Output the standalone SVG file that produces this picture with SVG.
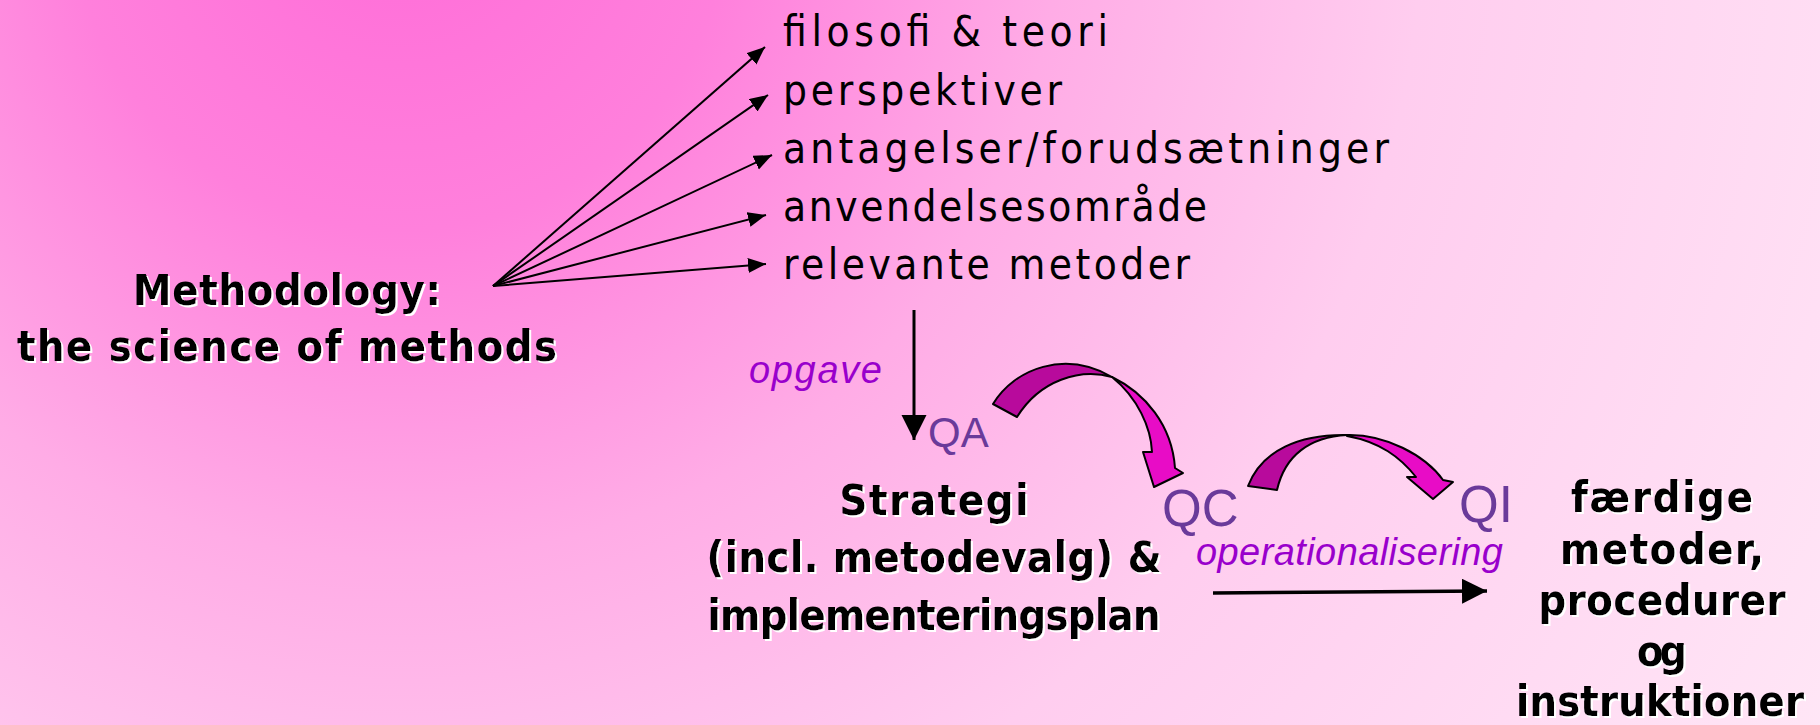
<svg xmlns="http://www.w3.org/2000/svg" width="1820" height="725" viewBox="0 0 1820 725">
<style>
.lst{font-family:"Liberation Sans Narrow","DejaVu Sans Condensed","Liberation Sans",sans-serif;font-size:42px;fill:#000}
.bld{font-family:"Liberation Sans Narrow","DejaVu Sans Condensed","Liberation Sans",sans-serif;font-size:43px;font-weight:bold;fill:#000;text-anchor:middle;filter:url(#wsh)}
.q{font-family:"Liberation Sans",Arial,sans-serif;fill:#6a3a9a}
.lbl{font-family:"Liberation Sans",Arial,sans-serif;font-style:italic;font-size:38px;fill:#9900cc}
.ln{stroke:#000;fill:none}
.dark{fill:#b80a9c;stroke:#000;stroke-width:2;stroke-linejoin:round}
.bright{fill:#e80cc6;stroke:#000;stroke-width:2;stroke-linejoin:round}
</style>
<defs>
<radialGradient id="bg" gradientUnits="userSpaceOnUse" cx="400" cy="-100" r="1650">
<stop offset="0" stop-color="#ff6cd8"/>
<stop offset="0.2" stop-color="#ff80dc"/>
<stop offset="0.4" stop-color="#fface6"/>
<stop offset="0.62" stop-color="#ffcdef"/>
<stop offset="1" stop-color="#ffe6f6"/>
</radialGradient>
<filter id="wsh" x="-5%" y="-20%" width="110%" height="140%">
<feFlood flood-color="#ffffff" result="w"/>
<feComposite in="w" in2="SourceAlpha" operator="in" result="ws"/>
<feOffset in="ws" dx="2" dy="2" result="off"/>
<feMerge><feMergeNode in="off"/><feMergeNode in="SourceGraphic"/></feMerge>
</filter>
<marker id="ah" markerUnits="userSpaceOnUse" markerWidth="20" markerHeight="16" refX="18" refY="7.5" orient="auto">
<path d="M0,0 L18,7.5 L0,15 Z" fill="#000"/>
</marker>
<marker id="ahb" markerUnits="userSpaceOnUse" markerWidth="26" markerHeight="26" refX="25" refY="12.5" orient="auto">
<path d="M0,0 L25,12.5 L0,25 Z" fill="#000"/>
</marker>
</defs>
<rect x="0" y="0" width="1820" height="725" fill="url(#bg)"/>

<g id="connectors">
<line class="ln" stroke-width="2" x1="493" y1="286" x2="765" y2="47" marker-end="url(#ah)"/>
<line class="ln" stroke-width="2" x1="493" y1="286" x2="768" y2="95" marker-end="url(#ah)"/>
<line class="ln" stroke-width="2" x1="493" y1="286" x2="772" y2="155" marker-end="url(#ah)"/>
<line class="ln" stroke-width="2" x1="493" y1="286" x2="766" y2="215" marker-end="url(#ah)"/>
<line class="ln" stroke-width="2" x1="493" y1="286" x2="766" y2="264" marker-end="url(#ah)"/>
<line class="ln" stroke-width="3" x1="914" y1="310" x2="914" y2="440" marker-end="url(#ahb)"/>
<line class="ln" stroke-width="3.5" x1="1213" y1="593" x2="1487" y2="591" marker-end="url(#ahb)"/>
<g id="curve-qa-qc">
<path class="dark" d="M993,404 C1015,368 1065,350 1112,377 C1080,368 1040,380 1017,417 Z"/>
<path class="bright" d="M1112,377 C1145,393 1172,425 1175,468 L1183,473 L1154,487 L1143,452 L1152,452 C1151,428 1138,398 1112,377 Z"/>
</g>
<g id="curve-qc-qi">
<path class="dark" d="M1248,486 C1262,450 1300,434 1347,435 C1310,437 1285,455 1277,490 Z"/>
<path class="bright" d="M1347,435 C1385,434 1425,455 1443,480 L1453,482 L1433,499 L1407,477 L1416,477 C1400,457 1380,442 1347,436 Z"/>
</g>
</g>

<g id="methodology">
<text class="bld" x="287" y="305" textLength="308" lengthAdjust="spacing">Methodology:</text>
<text class="bld" x="287" y="361" textLength="540" lengthAdjust="spacing">the science of methods</text>
</g>

<g id="item-filosofi"><text class="lst" x="783" y="46" textLength="325" lengthAdjust="spacing">filosofi &amp; teori</text></g>
<g id="item-perspektiver"><text class="lst" x="783" y="105" textLength="279" lengthAdjust="spacing">perspektiver</text></g>
<g id="item-antagelser"><text class="lst" x="783" y="163" textLength="606" lengthAdjust="spacing">antagelser/forudsætninger</text></g>
<g id="item-anvendelse"><text class="lst" x="783" y="221" textLength="424" lengthAdjust="spacing">anvendelsesområde</text></g>
<g id="item-metoder"><text class="lst" x="783" y="279" textLength="407" lengthAdjust="spacing">relevante metoder</text></g>

<g id="label-opgave"><text class="lbl" x="749" y="383" textLength="133" lengthAdjust="spacing">opgave</text></g>
<g id="qa"><text class="q" x="928" y="447" font-size="42">QA</text></g>
<g id="qc"><text class="q" x="1162" y="526" font-size="51">QC</text></g>
<g id="qi"><text class="q" x="1459" y="522" font-size="51">QI</text></g>

<g id="strategi">
<text class="bld" x="934" y="515" textLength="189" lengthAdjust="spacing">Strategi</text>
<text class="bld" x="934" y="572" textLength="455" lengthAdjust="spacing">(incl. metodevalg) &amp;</text>
<text class="bld" x="934" y="630" textLength="453" lengthAdjust="spacing">implementeringsplan</text>
</g>

<g id="label-operationalisering"><text class="lbl" x="1196" y="565" textLength="307" lengthAdjust="spacing">operationalisering</text></g>

<g id="faerdige">
<text class="bld" x="1662" y="512" textLength="182" lengthAdjust="spacing">færdige</text>
<text class="bld" x="1662" y="564" textLength="204" lengthAdjust="spacing">metoder,</text>
<text class="bld" x="1662" y="615" textLength="247" lengthAdjust="spacing">procedurer</text>
<text class="bld" x="1662" y="666" textLength="50" lengthAdjust="spacing">og</text>
<text class="bld" x="1660" y="716" textLength="288" lengthAdjust="spacing">instruktioner</text>
</g>
</svg>
